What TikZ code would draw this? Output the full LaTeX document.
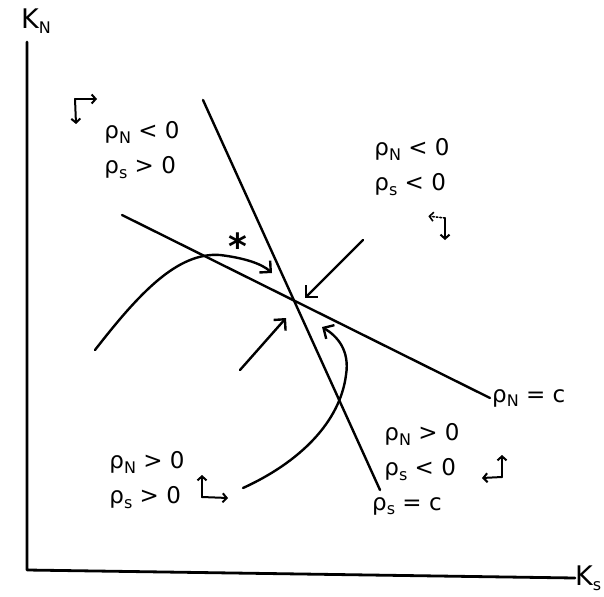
\documentclass[tikz,border=0pt]{standalone}
\usepackage{fontspec}
\setmainfont{DejaVu Sans}
\usetikzlibrary{arrows.meta}
\newcommand\lsub[1]{\raisebox{-0.35ex}{\fontsize{16}{16}\selectfont #1}}
\begin{document}
\begin{tikzpicture}[x=1pt,y=-1pt,line cap=round,line join=round,
  axisline/.style={line width=2.8pt},
  mainline/.style={line width=2.4pt},
  arr/.style={line width=2.4pt,-{Straight Barb[length=8pt,width=16pt,line width=2.4pt]}},
  dirarr/.style={line width=2pt,-{Straight Barb[length=4pt,width=9pt,line width=2pt]}},
  dotarr/.style={line width=1.6pt,dotted,-{Straight Barb[length=4pt,width=9pt,line width=1.6pt,sep]}},
  lbl/.style={font=\fontsize{23}{35}\selectfont,inner sep=0pt,align=left},
  axlbl/.style={font=\fontsize{27}{30}\selectfont,inner sep=0pt}]
\useasboundingbox (0,0) rectangle (604,596);
% axes
\coordinate (O) at (27,570);
\coordinate (ytop) at (27,42);
\node[axlbl,anchor=south] (KN) at (36,34) {K\lsub{N}};
\node[axlbl,anchor=west] (KS) at (575,578) {K\lsub{s}};
\draw[axisline] (ytop) -- (O) -- (KS.west);
% lines
\coordinate (E) at (292,298);
\coordinate (sTop) at (203,100);
\coordinate (sBot) at (380,490);
\coordinate (nL) at (122,215);
\coordinate (nR) at (490,398);
\draw[mainline] (sTop) -- (sBot);
\draw[mainline] (nL) -- (nR);
\node[lbl,anchor=west] (labN) at (492,398) {ρ\lsub{N} = c};
\node[lbl,anchor=north west] (labS) at (372,497) {ρ\lsub{s} = c};
% region labels
\node[lbl] (TL) at (142,150) {ρ\lsub{N} < 0\\ρ\lsub{s} > 0};
\node[lbl] (TR) at (412,167) {ρ\lsub{N} < 0\\ρ\lsub{s} < 0};
\node[lbl] (BR) at (422,452) {ρ\lsub{N} > 0\\ρ\lsub{s} < 0};
\node[lbl] (BL) at (147,480) {ρ\lsub{N} > 0\\ρ\lsub{s} > 0};
% direction symbols
\coordinate (cTL) at (75,99);
\coordinate (cTLr) at (97,99);
\coordinate (cTLd) at (76,124);
\draw[dirarr] (cTL) -- (cTLr);
\draw[dirarr] (cTL) -- (cTLd);
\coordinate (cTR) at (445,218);
\coordinate (cTRl) at (427,216);
\coordinate (cTRd) at (445,240);
\draw[dotarr] (cTR) -- (cTRl);
\draw[dirarr] (cTR) -- (cTRd);
\coordinate (cBR) at (502,477);
\coordinate (cBRu) at (502,455);
\coordinate (cBRl) at (482,478);
\draw[dirarr] (cBR) -- (cBRu);
\draw[dirarr] (cBR) -- (cBRl);
\coordinate (cBL) at (202,497);
\coordinate (cBLu) at (202,475);
\coordinate (cBLr) at (228,498);
\draw[dirarr] (cBL) -- (cBLu);
\draw[dirarr] (cBL) -- (cBLr);
% trajectories
\coordinate (t1s) at (95,350);
\coordinate (t1m) at (220,255);
\coordinate (t1e) at (272,273);
\draw[arr] (t1s) .. controls (140,292) and (178,252) .. (t1m) .. controls (245,258) and (262,264) .. (t1e);
\coordinate (t2s) at (243,488);
\coordinate (t2m) at (346,375);
\coordinate (t2e) at (322,327);
\draw[arr] (t2s) .. controls (300,462) and (340,422) .. (t2m) .. controls (350,350) and (337,336) .. (t2e);
\coordinate (a1s) at (363,240);
\coordinate (a1e) at (305,298);
\draw[arr] (a1s) -- (a1e);
\coordinate (a2s) at (240,370);
\coordinate (a2e) at (286,318);
\draw[arr] (a2s) -- (a2e);
\node[font=\fontsize{36}{36}\selectfont\bfseries,inner sep=0pt] (star) at (238,246) {*};
\end{tikzpicture}
\end{document}
